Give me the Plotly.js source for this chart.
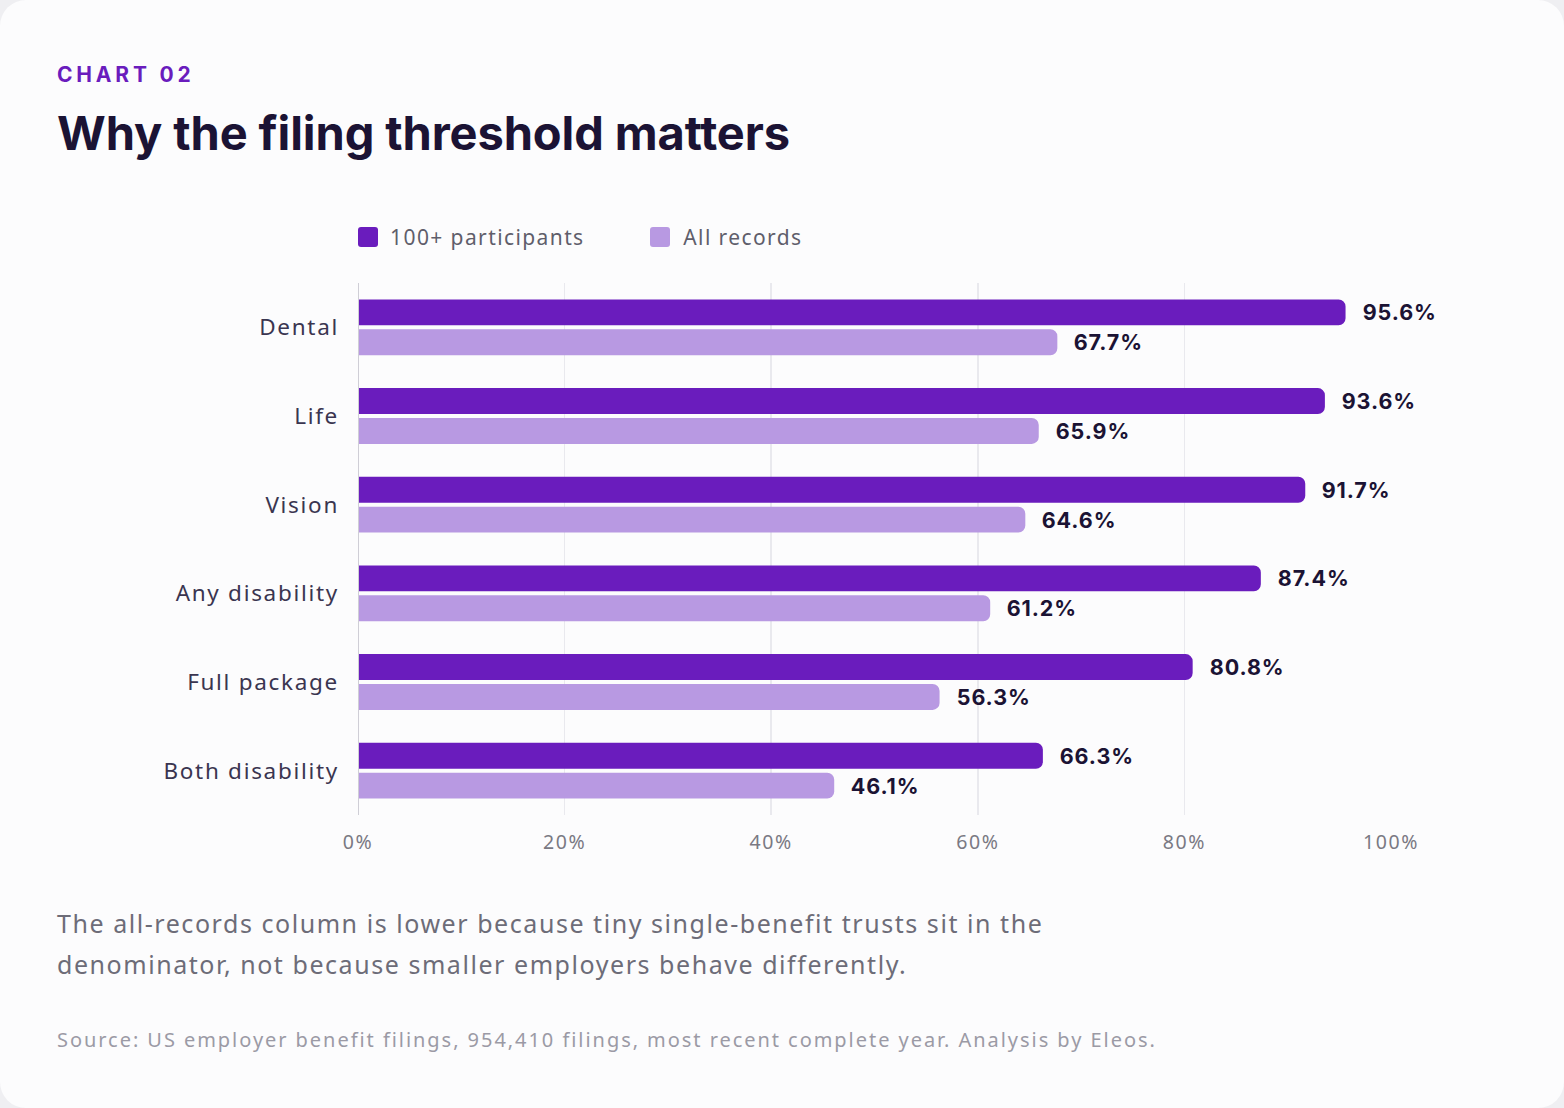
<!DOCTYPE html>
<html>
<head>
<meta charset="utf-8">
<script src="https://cdn.plot.ly/plotly-3.0.1.min.js"></script>
<style>
  html, body { margin:0; padding:0; width:1564px; height:1108px; background:#efeff2; overflow:hidden; }
  #card { position:absolute; left:0; top:0; width:1564px; height:1108px; background:#fcfcfd; border-radius:26px; }
  #chart { position:absolute; left:0; top:0; width:1564px; height:1108px; }
  .txt { position:absolute; left:57px; white-space:nowrap; }
  #kicker { top:62px; font-family:Inter, sans-serif; font-weight:700; font-size:21px; letter-spacing:3.8px; color:#6a1cbd; }
  #title { top:104px; font-family:Inter, sans-serif; font-weight:700; font-size:47px; letter-spacing:-0.1px; color:#1b1334; }
  #note { top:903px; font-family:"Noto Sans", sans-serif; font-size:25px; line-height:41px; letter-spacing:1.55px; color:#6d6c78; }
  #source { top:1026px; font-family:"Noto Sans", sans-serif; font-size:20px; letter-spacing:1.95px; color:#9b9aa5; }
  #chart .ytick text { letter-spacing:1.7px; }
  #chart .xtick text { letter-spacing:1.6px; }
  #chart .annotation-text.leg { letter-spacing:1.4px; }
  #chart .annotation-text.val { letter-spacing:0.9px; }
</style>
</head>
<body>
<div id="card"></div>
<div id="chart"></div>
<div id="kicker" class="txt">CHART 02</div>
<div id="title" class="txt">Why the filing threshold matters</div>
<div id="note" class="txt">The all-records column is lower because tiny single-benefit trusts sit in the<br>denominator, not because smaller employers behave differently.</div>
<div id="source" class="txt">Source: US employer benefit filings, 954,410 filings, most recent complete year. Analysis by Eleos.</div>
<script>
const categories = ["Dental", "Life", "Vision", "Any disability", "Full package", "Both disability"];
const large = [95.6, 93.6, 91.7, 87.4, 80.8, 66.3];
const allRecords = [67.7, 65.9, 64.6, 61.2, 56.3, 46.1];
const seriesNames = ["100+ participants", "All records"];
const tickVals = [0, 20, 40, 60, 80, 100];
const tickText = ["0%", "20%", "40%", "60%", "80%", "100%"];

const dark = "#6a1cbd", light = "#b899e2";

const traces = [
  { type:"bar", orientation:"h", name:seriesNames[0], y:categories, x:large,
    marker:{ color:dark, cornerradius:7, line:{width:0} }, hoverinfo:"none" },
  { type:"bar", orientation:"h", name:seriesNames[1], y:categories, x:allRecords,
    marker:{ color:light, cornerradius:7, line:{width:0} }, hoverinfo:"none" }
];

const annotations = [];
const valAnn = [];
categories.forEach((c, i) => {
  annotations.push({ x:large[i], y:c, xref:"x", yref:"y", text:large[i].toFixed(1)+"%", showarrow:false,
    xanchor:"left", xshift:17, yshift:15, font:{family:"Inter, sans-serif", size:21.5, color:"#1b1334", weight:700} });
  valAnn.push(annotations.length - 1);
  annotations.push({ x:allRecords[i], y:c, xref:"x", yref:"y", text:allRecords[i].toFixed(1)+"%", showarrow:false,
    xanchor:"left", xshift:17, yshift:-15, font:{family:"Inter, sans-serif", size:21.5, color:"#1b1334", weight:700} });
  valAnn.push(annotations.length - 1);
});

// custom legend (paper coords: plot area is 358..1391 x, 283..815 y)
const W = 1033, H = 532;
const px = x => (x - 358) / W;
const py = y => (815 - y) / H;
const legendItems = [
  { x0:358, color:dark, label:seriesNames[0], tx:400 },
  { x0:650, color:light, label:seriesNames[1], tx:689 }
];
const shapes = [];
legendItems.forEach(it => {
  shapes.push({ type:"path", xref:"paper", yref:"paper",
    path: roundRect(px(it.x0), py(247), px(it.x0+20), py(227), 3/W, 3/H),
    fillcolor:it.color, line:{width:0} });
  annotations.push({ xref:"paper", yref:"paper", x:px(it.tx), y:py(237), text:it.label, showarrow:false,
    xanchor:"left", yanchor:"middle", font:{family:"Noto Sans, sans-serif", size:21, color:"#5f5e6b"} });
});

function roundRect(x0, y0, x1, y1, rx, ry) {
  return `M${x0+rx},${y0} L${x1-rx},${y0} Q${x1},${y0} ${x1},${y0+ry} L${x1},${y1-ry} Q${x1},${y1} ${x1-rx},${y1} ` +
         `L${x0+rx},${y1} Q${x0},${y1} ${x0},${y1-ry} L${x0},${y0+ry} Q${x0},${y0} ${x0+rx},${y0} Z`;
}

const layout = {
  width:1564, height:1108,
  margin:{ l:358, r:173, t:283, b:293 },
  paper_bgcolor:"rgba(0,0,0,0)", plot_bgcolor:"rgba(0,0,0,0)",
  barmode:"group", bargap:0.326, bargroupgap:0.133,
  showlegend:false,
  xaxis:{ range:[0,100], tickvals:tickVals, ticktext:tickText, showgrid:true, gridcolor:"#e9e9ee", gridwidth:1.5,
    zeroline:false, showline:false, ticks:"", ticklabelstandoff:13,
    tickfont:{family:"Noto Sans, sans-serif", size:19.5, color:"#7a7983"}, fixedrange:true },
  yaxis:{ autorange:"reversed", showgrid:false, zeroline:false, showline:false, ticks:"", ticklabelstandoff:18,
    tickfont:{family:"Noto Sans, sans-serif", size:22.5, color:"#3a3550"}, fixedrange:true },
  shapes: shapes.concat([{ type:"line", xref:"x", yref:"paper", x0:0, x1:0, y0:0, y1:1, line:{color:"#cfced6", width:2}, layer:"above" }]),
  annotations: annotations
};

Plotly.newPlot("chart", traces, layout, { displayModeBar:false, staticPlot:true }).then(gd => {
  const nodes = gd.querySelectorAll(".annotation");
  nodes.forEach((n, i) => {
    const t = n.querySelector(".annotation-text");
    if (!t) return;
    t.classList.add(valAnn.includes(i) ? "val" : "leg");
  });
});
</script>
</body>
</html>
